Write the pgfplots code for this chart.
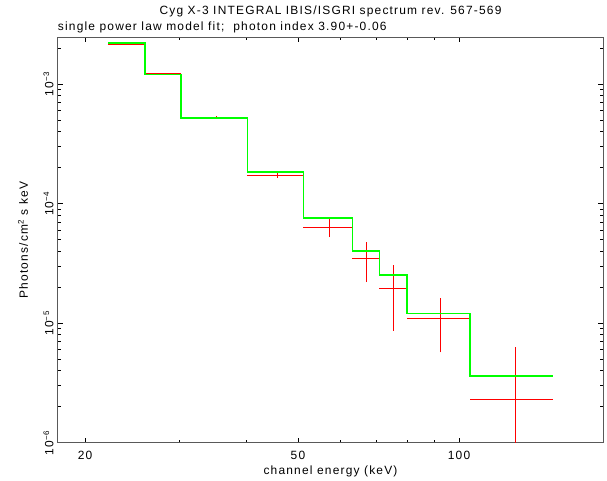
\documentclass[border=0pt]{standalone}
\usepackage{fontspec}
\setmainfont{Liberation Sans}[LetterSpace=10]
\usepackage{pgfplots}
\pgfplotsset{compat=1.18}

% measured data as crosses: horizontal bin width, then vertical error, per bin
\pgfplotstableread{
x      y
22.1   2.15e-3
25.9   2.15e-3
nan    nan
24.0   2.12e-3
24.0   2.18e-3
nan    nan
25.9   1.23e-3
30.2   1.23e-3
nan    nan
28.05  1.215e-3
28.05  1.245e-3
nan    nan
30.2   5.27e-4
40.2   5.27e-4
nan    nan
35.2   5.15e-4
35.2   5.39e-4
nan    nan
40.2   1.73e-4
51.2   1.73e-4
nan    nan
45.7   1.65e-4
45.7   1.81e-4
nan    nan
51.2   6.35e-5
63.2   6.35e-5
nan    nan
57.2   5.25e-5
57.2   7.45e-5
nan    nan
63.2   3.50e-5
71.0   3.50e-5
nan    nan
67.1   2.20e-5
67.1   4.80e-5
nan    nan
71.0   1.96e-5
80.0   1.96e-5
nan    nan
75.45  8.6e-6
75.45  3.06e-5
nan    nan
80.0   1.10e-5
104.9  1.10e-5
nan    nan
92.4   5.7e-6
92.4   1.63e-5
nan    nan
104.9  2.29e-6
150.1  2.29e-6
nan    nan
127.5  5.0e-7
127.5  6.35e-6
}\datatable

% model: left bin edge, model flux (last row closes the final bin)
\pgfplotstableread{
x     y
22.1  2.19e-3
25.9  1.205e-3
30.2  5.17e-4
40.2  1.83e-4
51.2  7.55e-5
63.2  4.00e-5
71.0  2.52e-5
80.0  1.205e-5
104.9 3.61e-6
150.1 3.61e-6
}\modeltable

\begin{document}
\fontsize{12}{14}\selectfont
\begin{tikzpicture}
\path[use as bounding box] (-57.7bp,-38.3bp) rectangle (549.3bp,442.7bp);
\begin{loglogaxis}[
    anchor=south west, at={(0,0)},
    scale only axis,
    width=545.6bp, height=405.4bp,
    xmin=17.78, xmax=186.1,
    ymin=1e-6, ymax=2.455e-3,
    axis line style={black!65, line width=1bp},
    tick style={black, line width=0.6bp},
    major tick length=5bp, minor tick length=3bp,
    xtick={20,50,100}, xticklabels={20,50,100},
    minor xtick={30,40,60,70,80,90},
    ytick={1e-6,1e-5,1e-4,1e-3},
    yticklabels={10\textsuperscript{−6},10\textsuperscript{−5},10\textsuperscript{−4},10\textsuperscript{−3}},
    minor ytick={2e-6,3e-6,4e-6,5e-6,6e-6,7e-6,8e-6,9e-6,
                 2e-5,3e-5,4e-5,5e-5,6e-5,7e-5,8e-5,9e-5,
                 2e-4,3e-4,4e-4,5e-4,6e-4,7e-4,8e-4,9e-4,2e-3},
    yticklabel style={rotate=90, anchor=south},
    xticklabel style={yshift=-4bp},
    xlabel={channel energy (keV)},
    ylabel={Photons/cm\textsuperscript{2} s keV},
    xlabel style={at={(axis description cs:0.5,0)}, anchor=base, yshift=-31.5bp},
    ylabel style={at={(axis description cs:-0.0636,0.5)}, anchor=center},
    unbounded coords=jump,
    clip=true,
]
\addplot[color=red, line width=0.9bp, mark=none] table[x=x, y=y] {\datatable};
\addplot[const plot mark left, color=green, line width=1.5bp, mark=none]
    table[x=x, y=y] {\modeltable};
\end{loglogaxis}
\node[anchor=base] at (272.8bp,428bp) {Cyg X-3 INTEGRAL IBIS/ISGRI spectrum rev. 567-569};
\node[anchor=base west, inner sep=0pt] at (0bp,412.5bp) {single power law model fit;\ \ photon index 3.90+-0.06};
\end{tikzpicture}
\end{document}
